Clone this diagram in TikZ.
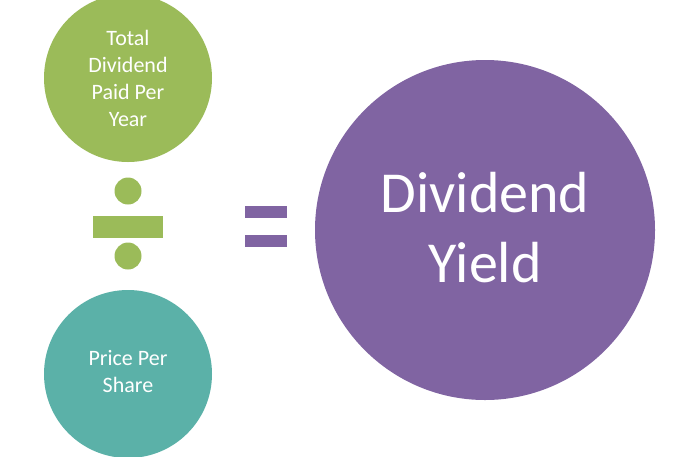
\documentclass[tikz,border=0pt]{standalone}
\usepackage{fontspec}
\setmainfont{Carlito}
\definecolor{gr}{HTML}{9BBB59}
\definecolor{tl}{HTML}{5BB1A8}
\definecolor{pu}{HTML}{8064A2}
\begin{document}
\begin{tikzpicture}[x=1pt,y=-1pt,
  circ/.style={circle,inner sep=0pt,text=white,align=center,font=\fontsize{22}{27}\selectfont}]
\useasboundingbox (0,0) rectangle (700,456);
\begin{scope}
\clip (0,0) rectangle (700,456);
\node[circ,fill=gr,minimum size=168pt] (a) at (128,78) {};
\node[text=white,align=center,font=\fontsize{22}{27}\selectfont] (at) at (128,78) {Total\\Dividend\\Paid Per\\Year};
\node[circ,fill=tl,minimum size=168pt] (b) at (128,374) {};
\node[text=white,align=center,font=\fontsize{22}{27}\selectfont] (bt) at (128,372) {Price Per\\Share};
\end{scope}
\node[circ,fill=pu,minimum size=340pt] (c) at (485,230) {};
\node[text=white,align=center,font=\fontsize{58}{70}\selectfont] (ct) at (485,228) {Dividend\\Yield};
\fill[gr] (93,216) rectangle (163,238);
\node[circle,fill=gr,minimum size=27pt,inner sep=0pt] (d1) at (128,191) {};
\node[circle,fill=gr,minimum size=27pt,inner sep=0pt] (d2) at (128,256) {};
\fill[pu] (245,206) rectangle (287,218);
\fill[pu] (245,235) rectangle (287,247);
\end{tikzpicture}
\end{document}
